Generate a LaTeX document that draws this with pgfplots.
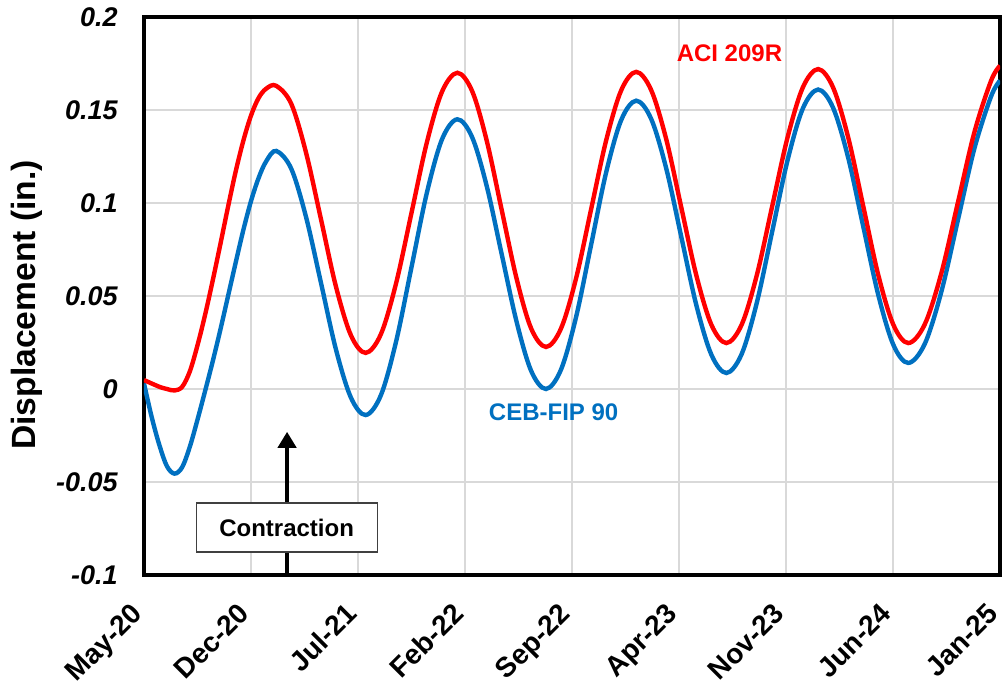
\documentclass[border=0pt]{standalone}
\usepackage{fontspec}
\setmainfont{Liberation Sans}
\usepackage{pgfplots}
\pgfplotsset{compat=1.18}
\usetikzlibrary{arrows.meta}
\definecolor{aciRed}{RGB}{255,0,0}
\definecolor{cebBlue}{RGB}{0,112,192}
\definecolor{gridgray}{RGB}{217,217,217}

\pgfplotstableread{
x y
0 0.0048
1.0 0.0012
1.5 0.0
2.0 -0.0008
2.5 0.0012
3.0 0.0095
3.5 0.0235
4.0 0.040
4.5 0.0585
5.0 0.078
5.5 0.098
6.0 0.117
6.5 0.1335
7.0 0.147
7.5 0.1565
8.0 0.1615
8.65 0.163
9.63 0.1534
10.60 0.1271
11.58 0.0912
12.55 0.0553
13.53 0.029
14.5 0.0194
15.5 0.0295
16.5 0.0571
17.5 0.0947
18.5 0.1324
19.5 0.1599
20.5 0.170
21.47 0.1601
22.43 0.1332
23.40 0.0963
24.37 0.0595
25.33 0.0325
26.3 0.0226
27.28 0.0325
28.27 0.0596
29.25 0.0966
30.23 0.1335
31.22 0.1606
32.2 0.1705
33.18 0.1607
34.17 0.1341
35.15 0.0976
36.13 0.0612
37.12 0.0345
38.1 0.0247
39.1 0.0346
40.1 0.0615
41.1 0.0984
42.1 0.1352
43.1 0.1621
44.1 0.172
45.08 0.1621
46.07 0.1352
47.05 0.0984
48.03 0.0615
49.02 0.0346
50.0 0.0247
51.08 0.0348
52.17 0.0625
53.25 0.1004
54.33 0.1382
55.42 0.1658
56.0 0.1738
}\aci

\pgfplotstableread{
x y
0 0.003
0.5 -0.015
1.0 -0.030
1.5 -0.0415
2.0 -0.0455
2.5 -0.042
3.0 -0.031
3.5 -0.0165
4.0 -0.001
4.5 0.015
5.0 0.032
5.5 0.050
6.0 0.068
6.5 0.0855
7.0 0.101
7.5 0.1135
8.0 0.1225
8.65 0.128
9.63 0.1185
10.60 0.0925
11.58 0.057
12.55 0.0215
13.53 -0.0045
14.5 -0.014
15.5 -0.0033
16.5 0.0258
17.5 0.0655
18.5 0.1053
19.5 0.1343
20.5 0.145
21.47 0.1353
22.43 0.1088
23.40 0.0725
24.37 0.0363
25.33 0.0097
26.3 0.0
27.28 0.0104
28.27 0.0388
29.25 0.0775
30.23 0.1163
31.22 0.1446
32.2 0.155
33.18 0.1452
34.17 0.1184
35.15 0.0818
36.13 0.0452
37.12 0.0184
38.1 0.0086
39.1 0.0188
40.1 0.0467
41.1 0.0848
42.1 0.1229
43.1 0.1508
44.1 0.161
45.08 0.1512
46.07 0.1243
47.05 0.0875
48.03 0.0508
49.02 0.0238
50.0 0.014
51.08 0.0243
52.17 0.0525
53.25 0.091
54.33 0.1295
55.42 0.1574
56.0 0.1658
}\ceb

\begin{document}
\begin{tikzpicture}
\begin{axis}[
  scale only axis, width=428pt, height=279pt,
  xmin=0, xmax=56, ymin=-0.1, ymax=0.2,
  xtick={0,7,...,56},
  xticklabels={May-20,Dec-20,Jul-21,Feb-22,Sep-22,Apr-23,Nov-23,Jun-24,Jan-25},
  ytick={-0.1,-0.05,0,0.05,0.1,0.15,0.2},
  yticklabels={-0.1,-0.05,0,0.05,0.1,0.15,0.2},
  grid=major,
  major grid style={draw=gridgray, line width=0.6pt},
  axis line style={line width=2pt},
  major tick length=0pt,
  tick style={draw=none},
  xticklabel style={font=\fontsize{14}{17}\bfseries\selectfont, xshift=-7pt, yshift=-13pt, rotate=45, anchor=north east, inner sep=0pt},
  yticklabel style={font=\fontsize{13.5}{16}\bfseries\itshape\selectfont, inner sep=0pt, xshift=-13pt},
  every axis y label/.style={at={(axis description cs:-0.137,0.484)}, rotate=90, anchor=center},
  ylabel={Displacement (in.)},
  ylabel style={font=\fontsize{16.8}{20}\bfseries\selectfont},
]
\addplot[cebBlue, line width=2.2pt, smooth, tension=0.55, no markers] table[x=x,y=y] {\ceb};
\addplot[aciRed, line width=2.2pt, smooth, tension=0.55, no markers] table[x=x,y=y] {\aci};

\draw[line width=2pt, -{Triangle[length=8pt,width=9pt]}] (axis cs:9.36,-0.1) -- (axis cs:9.36,-0.023);
\node[draw=black!75, fill=white, line width=0.6pt, minimum width=90.5pt, minimum height=24.5pt, inner sep=0pt,
  font=\fontsize{12}{14}\bfseries\selectfont] at (axis cs:9.33,-0.0745) {Contraction};
\node[text=aciRed, font=\fontsize{12}{14}\bfseries\selectfont] at (axis cs:38.3,0.1806) {ACI 209R};
\node[text=cebBlue, font=\fontsize{12}{14}\bfseries\selectfont] at (axis cs:26.8,-0.0124) {CEB-FIP 90};
\end{axis}
\pgfresetboundingbox
\path[use as bounding box] ([xshift=-72pt,yshift=-56.5pt]current axis.south west) rectangle ([xshift=2.5pt,yshift=8.5pt]current axis.north east);
\end{tikzpicture}
\end{document}
